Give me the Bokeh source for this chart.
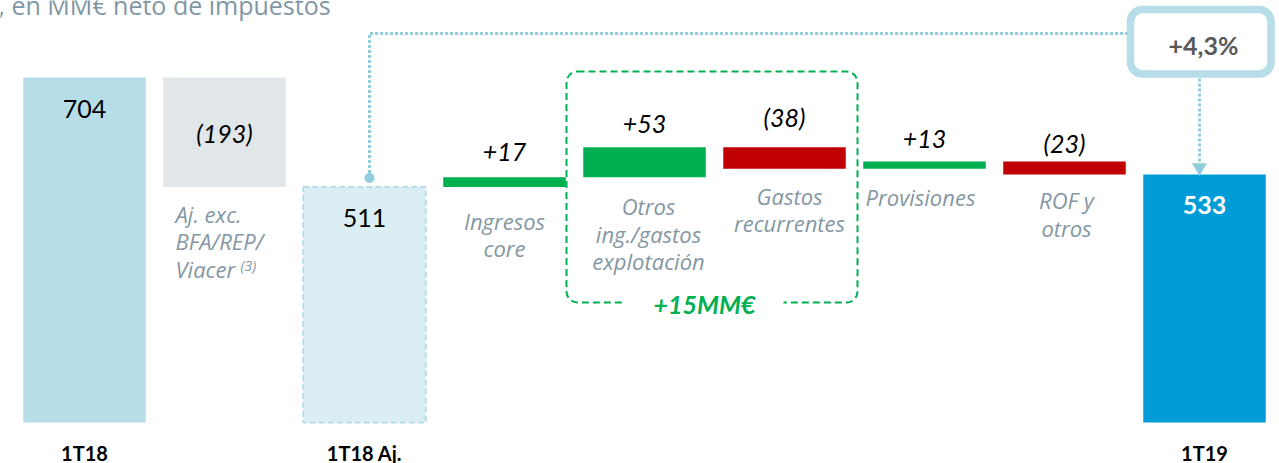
from bokeh.plotting import figure
from bokeh.models import Range1d, BoxAnnotation, ColumnDataSource
from bokeh.core.properties import value
from bokeh.embed import file_html
from bokeh.resources import INLINE

# ---------------- data ----------------
categories = ["1T18", "Aj. exc. BFA/REP/Viacer", "1T18 Aj.", "Ingresos core",
              "Otros ing./gastos explotación", "Gastos recurrentes",
              "Provisiones", "ROF y otros", "1T19"]
kinds = ["total", "delta", "total", "delta", "delta", "delta", "delta", "delta", "total"]
values = [704, -193, 511, 17, 53, -38, 13, -23, 533]
value_labels = ["704", "(193)", "511", "+17", "+53", "(38)", "+13", "(23)", "533"]
desc_lines = [[], ["Aj. exc.", "BFA/REP/", "Viacer"], [], ["Ingresos", "core"],
              ["Otros", "ing./gastos", "explotación"], ["Gastos", "recurrentes"],
              ["Provisiones"], ["ROF y", "otros"], []]
footnote_mark = "(3)"
axis_labels = ["1T18", "", "1T18 Aj.", "", "", "", "", "", "1T19"]
growth_label = "+4,3%"
group_label = "+15MM€"
subtitle = ", en MM€ neto de impuestos"

# ---------------- styles / layout ----------------
bar_colors = ["#B7DDE8", "#E1E6E9", "#DAEEF3", "#00B050", "#00B050",
              "#C00000", "#00B050", "#C00000", "#009CD8"]
label_styles = ["normal", "italic", "normal", "italic", "italic", "italic",
                "italic", "italic", "bold"]
label_colors = ["#000000"] * 8 + ["#FFFFFF"]
label_dy = [31, 55, 31.5, -25, -23.5, -30, -22, -18.5, 31]   # px from bar top (down +)
desc_first_dy = [0, 27, 0, 34, 29, 27, 28, 26, 0]             # px below bar bottom
desc_dx = [0, -49, 0, 0, 4, 5, -4, 2, 0]                      # px shift from bar center
desc_align = ["center", "left", "center", "center", "center", "center",
              "center", "center", "center"]
LINE_GAP = 27.5
GRAY = "#8497A3"
CONN = "#92CDDC"

W, H = 1279, 463
STEP = 140.0
X_START = -84 / STEP
BASE = 95.5
KY = 0.567
Y_END = 704 + 77 / KY
Y_START = Y_END - H / KY
BAR_W = 0.875


def px2x(px):
    return X_START + px / STEP


def px2y(py):
    return Y_END - py / KY


def dpy(n):
    return n / KY


def dpx(n):
    return n / STEP


# waterfall geometry
bottoms, tops = [], []
running = 0
for k, v in zip(kinds, values):
    if k == "total":
        bottoms.append(BASE)
        tops.append(v)
        running = v
    else:
        new = running + v
        bottoms.append(min(running, new))
        tops.append(max(running, new))
        running = new

xs = list(range(len(categories)))

p = figure(width=W, height=H, x_range=Range1d(X_START, X_START + W / STEP),
           y_range=Range1d(Y_START, Y_END), output_backend="svg",
           toolbar_location=None, min_border=0, outline_line_color=None)
p.axis.visible = False
p.grid.visible = False
p.background_fill_color = "white"
p.border_fill_color = "white"

# group box (underlay)
gb = BoxAnnotation(left=px2x(566), right=px2x(857), top=px2y(71), bottom=px2y(302),
                   fill_alpha=0, line_color="#00B050", line_alpha=1, line_width=2,
                   line_dash="7 4", border_radius=11, level="underlay")
p.add_layout(gb)
gap = BoxAnnotation(left=px2x(623), right=px2x(783), top=px2y(296), bottom=px2y(308),
                    fill_color="white", fill_alpha=1, line_alpha=0, level="underlay")
p.add_layout(gap)

# growth box
box = BoxAnnotation(left=px2x(1130), right=px2x(1270.5), top=px2y(9), bottom=px2y(73.5),
                    fill_color="white", fill_alpha=1, line_color="#B7DDE8", line_alpha=1,
                    line_width=7.5, border_radius=12, level="underlay")
p.add_layout(box)

# bars
idx_plain = [i for i in xs if i != 2]
src = ColumnDataSource(dict(x=[xs[i] for i in idx_plain],
                            b=[bottoms[i] for i in idx_plain],
                            t=[tops[i] for i in idx_plain],
                            c=[bar_colors[i] for i in idx_plain]))
p.vbar(x="x", bottom="b", top="t", width=BAR_W, fill_color="c", line_color=None, source=src)
p.vbar(x=[xs[2]], bottom=[bottoms[2]], top=[tops[2]], width=BAR_W,
       fill_color=bar_colors[2], line_color="#B7DDE8", line_width=2, line_dash="6 3")

# value labels
for i in xs:
    p.text(x=[xs[i]], y=[tops[i] - dpy(label_dy[i])], text=[value_labels[i]],
           text_font=value("Lato"), text_font_size="25px",
           text_font_style=label_styles[i], text_color=label_colors[i],
           text_align="center", text_baseline="middle")

# description labels
for i in xs:
    for j, line in enumerate(desc_lines[i]):
        p.text(x=[xs[i] + dpx(desc_dx[i])],
               y=[bottoms[i] - dpy(desc_first_dy[i] + j * LINE_GAP)],
               text=[line], text_font=value("Open Sans"), text_font_size="22px",
               text_font_style="italic", text_color=GRAY,
               text_align=desc_align[i], text_baseline="middle")
# footnote superscript
p.text(x=[xs[1] + dpx(16)], y=[bottoms[1] - dpy(desc_first_dy[1] + 2 * LINE_GAP - 3)],
       text=[footnote_mark], text_font=value("Open Sans"), text_font_size="14px",
       text_font_style="italic", text_color=GRAY, text_align="left", text_baseline="middle")

# category labels
for i in xs:
    if axis_labels[i]:
        p.text(x=[xs[i]], y=[px2y(452)], text=[axis_labels[i]],
               text_font=value("Lato"), text_font_size="20px", text_font_style="bold",
               text_color="#000000", text_align="center", text_baseline="middle")

# subtitle (top partly cut off, as in the reference)
p.text(x=[px2x(-2)], y=[px2y(4)], text=[subtitle], text_font=value("Open Sans"),
       text_font_size="25px", text_color="#7F97A5", text_align="left",
       text_baseline="middle")

# connector from 1T18 Aj. to growth box to 1T19
cx = xs[2] + dpx(5)
p.line(x=[cx, cx, px2x(1127)], y=[tops[2] + dpy(9), px2y(33), px2y(33)],
       line_color=CONN, line_width=3, line_dash="3 2")
p.scatter(x=[cx], y=[tops[2] + dpy(9)], size=10, marker="circle",
          fill_color=CONN, line_color=None)
ax = xs[8] - dpx(5)
p.line(x=[ax, ax], y=[px2y(78), px2y(163)], line_color=CONN, line_width=3, line_dash="3 2")
p.scatter(x=[ax], y=[tops[8] + dpy(7)], size=15, marker="inverted_triangle",
          fill_color=CONN, line_color=None)

p.text(x=[px2x(1203)], y=[px2y(44)], text=[growth_label], text_font=value("Lato"),
       text_font_size="25px", text_font_style="bold", text_color="#595959",
       text_align="center", text_baseline="middle")

p.text(x=[px2x(704)], y=[px2y(303)], text=[group_label], text_font=value("Lato"),
       text_font_size="25px", text_font_style="bold italic", text_color="#00B050",
       text_align="center", text_baseline="middle")

open("out.html", "w").write(file_html(p, INLINE))
